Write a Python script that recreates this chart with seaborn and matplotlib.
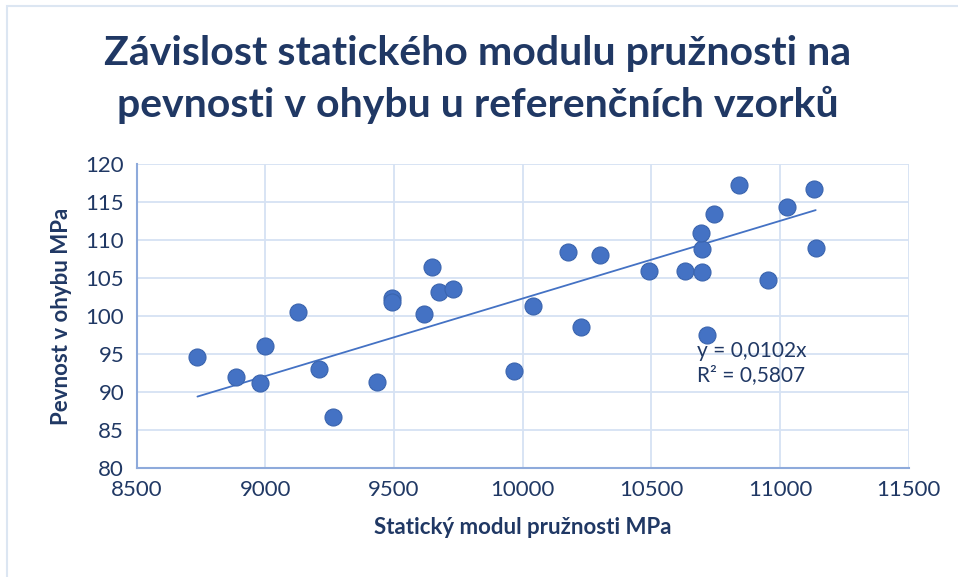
import numpy as np
import pandas as pd
import matplotlib
matplotlib.use("Agg")
import matplotlib.pyplot as plt
import seaborn as sns
from matplotlib.patches import Rectangle

# staticky modul pruznosti [MPa]
modul = [8736, 8887, 8978, 8999, 9128, 9207, 9261, 9435, 9492, 9492,
         9616, 9649, 9673, 9728, 9967, 10040, 10175, 10225, 10299, 10491,
         10632, 10698, 10695, 10694, 10714, 10743, 10840, 10951, 11026,
         11131, 11138]
# pevnost v ohybu [MPa]
pevnost = [94.6, 91.9, 91.2, 96.0, 100.5, 93.0, 86.7, 91.3, 102.4, 101.9,
           100.2, 106.5, 103.1, 103.6, 92.8, 101.3, 108.4, 98.5, 108.0, 105.9,
           105.9, 105.8, 108.8, 110.9, 97.5, 113.5, 117.3, 104.8, 114.3,
           116.7, 108.9]

x_ticks = [8500, 9000, 9500, 10000, 10500, 11000, 11500]
y_ticks = [80, 85, 90, 95, 100, 105, 110, 115, 120]

title = "Závislost statického modulu pružnosti na\npevnosti v ohybu u referenčních vzorků"
xlab = "Statický modul pružnosti MPa"
ylab = "Pevnost v ohybu MPa"
rovnice = "y = 0,0102x\nR² = 0,5807"

navy = "#203864"
bod = "#4472C4"

sns.set_style("white")
plt.rcParams['font.family'] = ['Lato', 'DejaVu Sans']

df = pd.DataFrame({"modul": modul, "pevnost": pevnost})

fig = plt.figure(figsize=(9.58, 5.77), dpi=100)
ax = fig.add_axes([0.1427, 0.1894, 0.806, 0.526])

# linear trend through origin
xa = np.array(modul, dtype=float)
ya = np.array(pevnost, dtype=float)
k = np.sum(xa * ya) / np.sum(xa * xa)
xl = np.array([xa.min(), xa.max()])
sns.lineplot(x=xl, y=k * xl, ax=ax, color="#4472C4", lw=1.3, zorder=2)

sns.scatterplot(data=df, x="modul", y="pevnost", ax=ax, s=150, color=bod,
                edgecolor="#3A64AE", linewidth=0.8, zorder=3)

ax.set_xlim(8500, 11500)
ax.set_ylim(80, 120)
ax.set_xticks(x_ticks)
ax.set_yticks(y_ticks)
ax.grid(True, color="#D6E2F3", lw=1.3)
ax.set_axisbelow(True)
for s in ["top", "right"]:
    ax.spines[s].set_visible(False)
for s in ["left", "bottom"]:
    ax.spines[s].set_color("#8EAADB")
    ax.spines[s].set_linewidth(1.5)
ax.tick_params(axis="both", length=0, labelsize=16, labelcolor=navy, pad=9)

ax.set_xlabel(xlab, fontsize=16, fontweight="bold", color=navy, labelpad=12)
ax.set_ylabel(ylab, fontsize=16, fontweight="bold", color=navy, labelpad=10)

ax.text(10677, 93.8, rovnice, fontsize=15, color=navy, va="center",
        ha="left", linespacing=1.25)

fig.text(0.4985, 0.862, title, ha="center", va="center", fontsize=29.5,
         fontweight="bold", color=navy, linespacing=1.45)

fig.patches.append(Rectangle((7 / 958, -0.1), 1.1, 1.1 - 6 / 577,
                             transform=fig.transFigure, fill=False,
                             edgecolor="#DCE6F2", lw=1.5))

fig.savefig("out.png", dpi=100)
